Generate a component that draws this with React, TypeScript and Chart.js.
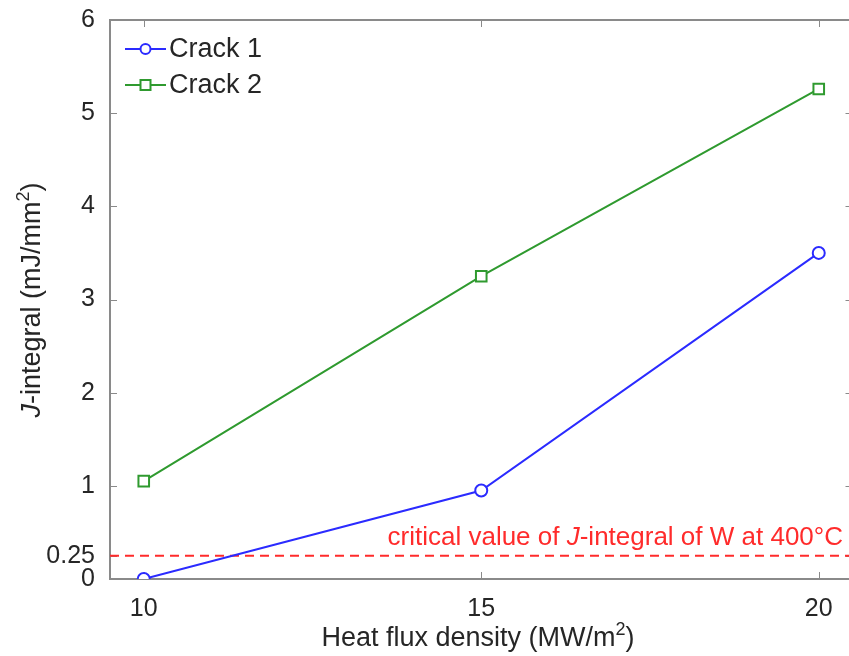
import React, { useEffect, useRef } from "react";
import { Chart, registerables } from "chart.js";

Chart.register(...registerables);

const X_VALUES = [10, 15, 20];
const CRACK1 = [0, 0.95, 3.5];
const CRACK2 = [1.05, 3.25, 5.26];
const CRITICAL = 0.25;
const X_RANGE = [9.5, 20.5];
const Y_RANGE = [0, 6];
const X_TICKS = [10, 15, 20];
const Y_TICKS = [0, 0.25, 1, 2, 3, 4, 5, 6];
const SERIES_NAMES = ["Crack 1", "Crack 2"];

const BLUE = "#2b2bff";
const GREEN = "#2f9a2f";
const RED = "#ff2b2b";
const AXIS = "#8a8a8a";
const TEXT = "#262626";
const FONT = "Arial, 'Liberation Sans', sans-serif";

type Seg = { t: string; i?: boolean; sup?: boolean };

function segFont(s: Seg, size: number) {
  const sz = s.sup ? Math.round(size * 0.65) : size;
  return `${s.i ? "italic " : ""}${sz}px ${FONT}`;
}

function richWidth(ctx: CanvasRenderingContext2D, segs: Seg[], size: number) {
  let w = 0;
  for (const s of segs) {
    ctx.font = segFont(s, size);
    w += ctx.measureText(s.t).width;
  }
  return w;
}

function drawRich(
  ctx: CanvasRenderingContext2D,
  segs: Seg[],
  x: number,
  y: number,
  size: number,
  color: string,
  align: "left" | "center" | "right"
) {
  const w = richWidth(ctx, segs, size);
  let cx = align === "left" ? x : align === "center" ? x - w / 2 : x - w;
  ctx.fillStyle = color;
  ctx.textBaseline = "alphabetic";
  ctx.textAlign = "left";
  for (const s of segs) {
    ctx.font = segFont(s, size);
    ctx.fillText(s.t, cx, s.sup ? y - size * 0.42 : y);
    cx += ctx.measureText(s.t).width;
  }
}

const decorPlugin = {
  id: "decor",
  beforeDatasetsDraw(chart: any) {
    const { ctx, chartArea } = chart;
    const { left, right, top, bottom } = chartArea;
    const xs = chart.scales.x;
    const ys = chart.scales.y;
    ctx.save();
    ctx.strokeStyle = AXIS;
    ctx.lineWidth = 1;
    const tl = 7;
    ctx.beginPath();
    for (const v of X_TICKS) {
      const px = Math.round(xs.getPixelForValue(v)) + 0.5;
      ctx.moveTo(px, bottom);
      ctx.lineTo(px, bottom - tl);
      ctx.moveTo(px, top);
      ctx.lineTo(px, top + tl);
    }
    for (const v of Y_TICKS) {
      const py = Math.round(ys.getPixelForValue(v)) + 0.5;
      ctx.moveTo(left, py);
      ctx.lineTo(left + tl, py);
      ctx.moveTo(right, py);
      ctx.lineTo(right - tl, py);
    }
    ctx.stroke();
    ctx.lineWidth = 2;
    ctx.strokeRect(left, top, right - left, bottom - top);
    ctx.restore();
  },
  afterDraw(chart: any) {
    const { ctx } = chart;
    const ys = chart.scales.y;
    ctx.save();
    // legend
    const rows = [
      { name: SERIES_NAMES[0], color: BLUE, marker: "circle", y: 49 },
      { name: SERIES_NAMES[1], color: GREEN, marker: "square", y: 85 },
    ];
    for (const r of rows) {
      ctx.strokeStyle = r.color;
      ctx.lineWidth = 2;
      ctx.beginPath();
      ctx.moveTo(125, r.y);
      ctx.lineTo(166, r.y);
      ctx.stroke();
      ctx.fillStyle = "#fff";
      ctx.beginPath();
      if (r.marker === "circle") ctx.arc(145.5, r.y, 5, 0, Math.PI * 2);
      else ctx.rect(140.5, r.y - 5, 10, 10);
      ctx.fill();
      ctx.stroke();
      ctx.fillStyle = TEXT;
      ctx.font = `27px ${FONT}`;
      ctx.textBaseline = "middle";
      ctx.textAlign = "left";
      ctx.fillText(r.name, 169, r.y + 1);
    }
    const cy = ys.getPixelForValue(CRITICAL);
    drawRich(
      ctx,
      [
        { t: "critical value of " },
        { t: "J", i: true },
        { t: "-integral of W at 400°C" },
      ],
      843,
      cy - 11,
      26,
      RED,
      "right"
    );
    drawRich(
      ctx,
      [{ t: "Heat flux density (MW/m" }, { t: "2", sup: true }, { t: ")" }],
      478,
      646,
      27,
      TEXT,
      "center"
    );
    ctx.translate(40, 300);
    ctx.rotate(-Math.PI / 2);
    drawRich(
      ctx,
      [
        { t: "J", i: true },
        { t: "-integral (mJ/mm" },
        { t: "2", sup: true },
        { t: ")" },
      ],
      0,
      0,
      27,
      TEXT,
      "center"
    );
    ctx.restore();
  },
};

export default function App() {
  const ref = useRef<HTMLCanvasElement | null>(null);
  useEffect(() => {
    document.body.style.margin = "0";
    const canvas = ref.current!;
    const chart = new Chart(canvas, {
      type: "line",
      data: {
        datasets: [
          {
            label: SERIES_NAMES[0],
            data: X_VALUES.map((x, i) => ({ x, y: CRACK1[i] })),
            borderColor: BLUE,
            borderWidth: 2,
            pointStyle: "circle",
            pointRadius: 6,
            pointBorderWidth: 2,
            pointBackgroundColor: "#fff",
            pointBorderColor: BLUE,
          },
          {
            label: SERIES_NAMES[1],
            data: X_VALUES.map((x, i) => ({ x, y: CRACK2[i] })),
            borderColor: GREEN,
            borderWidth: 2,
            pointStyle: "rect",
            pointRadius: 7.5,
            pointBorderWidth: 2,
            pointBackgroundColor: "#fff",
            pointBorderColor: GREEN,
          },
          {
            label: "critical",
            data: X_RANGE.map((x) => ({ x, y: CRITICAL })),
            borderColor: RED,
            borderWidth: 2,
            borderDash: [9, 6],
            pointRadius: 0,
          },
        ],
      },
      options: {
        responsive: false,
        animation: false,
        layout: { padding: { top: 20, right: 0, left: 0, bottom: 0 } },
        plugins: { legend: { display: false }, tooltip: { enabled: false } },
        scales: {
          x: {
            type: "linear",
            min: X_RANGE[0],
            max: X_RANGE[1],
            grid: { display: false },
            border: { display: false },
            afterBuildTicks: (s: any) => {
              s.ticks = X_TICKS.map((v) => ({ value: v }));
            },
            afterFit: (s: any) => {
              s.height = 77;
              s.paddingLeft = 0;
              s.paddingRight = 0;
            },
            ticks: {
              autoSkip: false,
              maxRotation: 0,
              padding: 7,
              color: TEXT,
              font: { family: FONT, size: 25 },
              callback: (v: any) => String(v),
            },
          },
          y: {
            type: "linear",
            min: Y_RANGE[0],
            max: Y_RANGE[1],
            grid: { display: false },
            border: { display: false },
            afterBuildTicks: (s: any) => {
              s.ticks = Y_TICKS.map((v) => ({ value: v }));
            },
            afterFit: (s: any) => {
              s.width = 110;
              s.paddingTop = 0;
              s.paddingBottom = 0;
            },
            ticks: {
              autoSkip: false,
              padding: 7,
              color: TEXT,
              font: { family: FONT, size: 25 },
              callback: (v: any) => String(v),
            },
          },
        },
      },
      plugins: [decorPlugin],
    });
    return () => chart.destroy();
  }, []);
  return (
    <div
      style={{
        position: "fixed",
        left: 0,
        top: 0,
        width: 849,
        height: 656,
        overflow: "hidden",
        background: "#fff",
      }}
    >
      <canvas ref={ref} width={862} height={656} style={{ width: 862, height: 656, display: "block" }} />
    </div>
  );
}
